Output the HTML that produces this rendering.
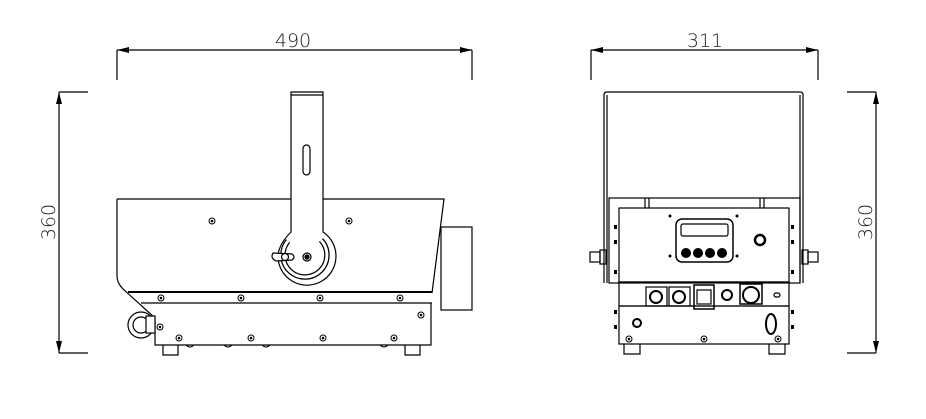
<!DOCTYPE html>
<html><head><meta charset="utf-8"><style>
html,body{margin:0;padding:0;background:#fff;width:926px;height:419px;overflow:hidden}
svg{display:block}
text{font-family:"DejaVu Sans","Liberation Sans",sans-serif;font-size:19px;fill:#222;font-weight:200}
</style></head><body>
<svg width="926" height="419" viewBox="0 0 926 419" xmlns="http://www.w3.org/2000/svg">
<defs>
<marker id="a" viewBox="0 0 12 6" refX="12" refY="3" markerWidth="12" markerHeight="6" orient="auto-start-reverse" markerUnits="userSpaceOnUse"><path d="M0,0 L12,3 L0,6z" fill="#000"/></marker>
<g id="scr"><circle r="3" fill="#fff" stroke="#000" stroke-width="1"/><circle r="1.3" fill="#000"/></g>
</defs>
<g stroke="#000" stroke-width="1.2" fill="none">
<line x1="117" y1="50" x2="472" y2="50" marker-start="url(#a)" marker-end="url(#a)"/>
<line x1="117" y1="50" x2="117" y2="80"/><line x1="472" y1="50" x2="472" y2="80"/>
<line x1="59" y1="92" x2="59" y2="353" marker-start="url(#a)" marker-end="url(#a)"/>
<line x1="59" y1="92" x2="88" y2="92"/><line x1="59" y1="353" x2="88" y2="353"/>
<line x1="591" y1="50" x2="818" y2="50" marker-start="url(#a)" marker-end="url(#a)"/>
<line x1="591" y1="50" x2="591" y2="80"/><line x1="818" y1="50" x2="818" y2="80"/>
<line x1="876" y1="92" x2="876" y2="353" marker-start="url(#a)" marker-end="url(#a)"/>
<line x1="847" y1="92" x2="876" y2="92"/><line x1="847" y1="353" x2="876" y2="353"/>

<path d="M117,199 L444,199 L432,293"/>
<path d="M117,199 L117,276 Q117,283 123,289 L155,318"/>
<line x1="128" y1="292" x2="432" y2="292" stroke-width="2"/>
<line x1="141" y1="303" x2="432" y2="303"/>
<path d="M155,318 L155,345 L431,345 L431,303"/>
<rect x="441" y="227" width="31" height="83"/>
<path d="M291,92 L291,232 Q278,245 278,257 A29,29 0 1 0 323,232 L323,92 Z" fill="#fff"/>
<line x1="291" y1="95" x2="323" y2="95"/>
<rect x="303" y="145" width="7" height="30" rx="3.5"/>
<path d="M288,241 A22,22 0 1 0 321,240" stroke-width="5.5"/>
<path d="M288,241 A22,22 0 1 0 321,240" stroke="#fff" stroke-width="3"/>
<circle cx="307" cy="257" r="4"/><circle cx="307" cy="257" r="2" fill="#000"/>
<path d="M273,253 Q270,258 276,261 L292,260 Q296,257 292,254 Z" fill="#fff"/>
<circle cx="285" cy="257" r="3.5" fill="#fff"/>
<circle cx="141" cy="325" r="13"/><circle cx="141" cy="325" r="8"/>
<rect x="146" y="316" width="9" height="17" fill="#fff"/>
<path d="M163,345 L163,355 L178,355 L178,345"/><path d="M405,345 L405,355 L420,355 L420,345"/>
<path d="M186,345 q4,4 8,0 M224,345 q4,4 8,0 M262,345 q4,4 8,0 M380,345 q4,4 8,0" stroke-width="1"/>

<path d="M604,283 L604,95 Q604,92 607,92 L800,92 Q803,92 803,95 L803,283"/>
<path d="M607,283 L607,95 M800,95 L800,283"/>
<rect x="609" y="198" width="191" height="85"/>
<rect x="619" y="208" width="170" height="74" fill="#fff"/>
<line x1="645" y1="198" x2="645" y2="208"/><line x1="649" y1="198" x2="649" y2="208"/>
<line x1="760" y1="198" x2="760" y2="208"/><line x1="764" y1="198" x2="764" y2="208"/>
<rect x="676" y="219" width="57" height="43" rx="6" stroke-width="1.5"/>
<rect x="681" y="224" width="47" height="12" rx="2"/>
<circle cx="760" cy="240" r="5" stroke-width="2.5"/>
<rect x="619" y="282" width="170" height="24"/>
<rect x="619" y="306" width="170" height="38"/>
<path d="M624,344 L624,354 L640,354 L640,344 M769,344 L769,354 L785,354 L785,344"/>
<rect x="590" y="252" width="10" height="10"/><rect x="600" y="250" width="6" height="14"/>
<rect x="808" y="252" width="10" height="10"/><rect x="802" y="250" width="6" height="14"/>
<rect x="646" y="287" width="21" height="19"/><circle cx="656" cy="297" r="6" stroke-width="2"/>
<rect x="669" y="287" width="21" height="19"/><circle cx="679" cy="297" r="6" stroke-width="2"/>
<rect x="694" y="285" width="20" height="24" stroke-width="1.5"/><rect x="697" y="290" width="14" height="14"/>
<circle cx="727" cy="295" r="5" stroke-width="2"/>
<rect x="740" y="284" width="22" height="20" stroke-width="1.5"/><circle cx="751" cy="295" r="8" stroke-width="2"/>
<rect x="774" y="293" width="6" height="4" rx="2"/>
<circle cx="637" cy="323" r="4" stroke-width="2"/>
<ellipse cx="771" cy="324" rx="5" ry="10" stroke-width="2"/>
</g>
<g fill="#000"><circle cx="686" cy="253" r="5"/><circle cx="698" cy="253" r="5"/><circle cx="710" cy="253" r="5"/><circle cx="722" cy="253" r="5"/>
<circle cx="670" cy="216" r="1.5"/><circle cx="737" cy="216" r="1.5"/><circle cx="670" cy="256" r="1.5"/><circle cx="737" cy="256" r="1.5"/></g>
<use href="#scr" x="212" y="221"/><use href="#scr" x="349" y="221"/>
<use href="#scr" x="161" y="298"/><use href="#scr" x="241" y="298"/><use href="#scr" x="320" y="298"/><use href="#scr" x="400" y="298"/>
<use href="#scr" x="421" y="315"/><use href="#scr" x="160" y="327"/>
<use href="#scr" x="179" y="338"/><use href="#scr" x="251" y="338"/><use href="#scr" x="323" y="338"/><use href="#scr" x="394" y="338"/>
<use href="#scr" x="629" y="339"/><use href="#scr" x="704" y="339"/><use href="#scr" x="778" y="339"/>
<g fill="#000">
<rect x="614" y="225" width="3" height="4"/><rect x="614" y="240" width="3" height="4"/><rect x="614" y="270" width="3" height="4"/><rect x="614" y="310" width="3" height="4"/><rect x="614" y="325" width="3" height="4"/>
<rect x="791" y="225" width="3" height="4"/><rect x="791" y="240" width="3" height="4"/><rect x="791" y="270" width="3" height="4"/><rect x="791" y="310" width="3" height="4"/><rect x="791" y="325" width="3" height="4"/>
</g>
<text x="293" y="47" text-anchor="middle">490</text>
<text x="705" y="47" text-anchor="middle">311</text>
<text transform="translate(55,222) rotate(-90)" text-anchor="middle">360</text>
<text transform="translate(872,222) rotate(-90)" text-anchor="middle">360</text>
</svg>
</body></html>
